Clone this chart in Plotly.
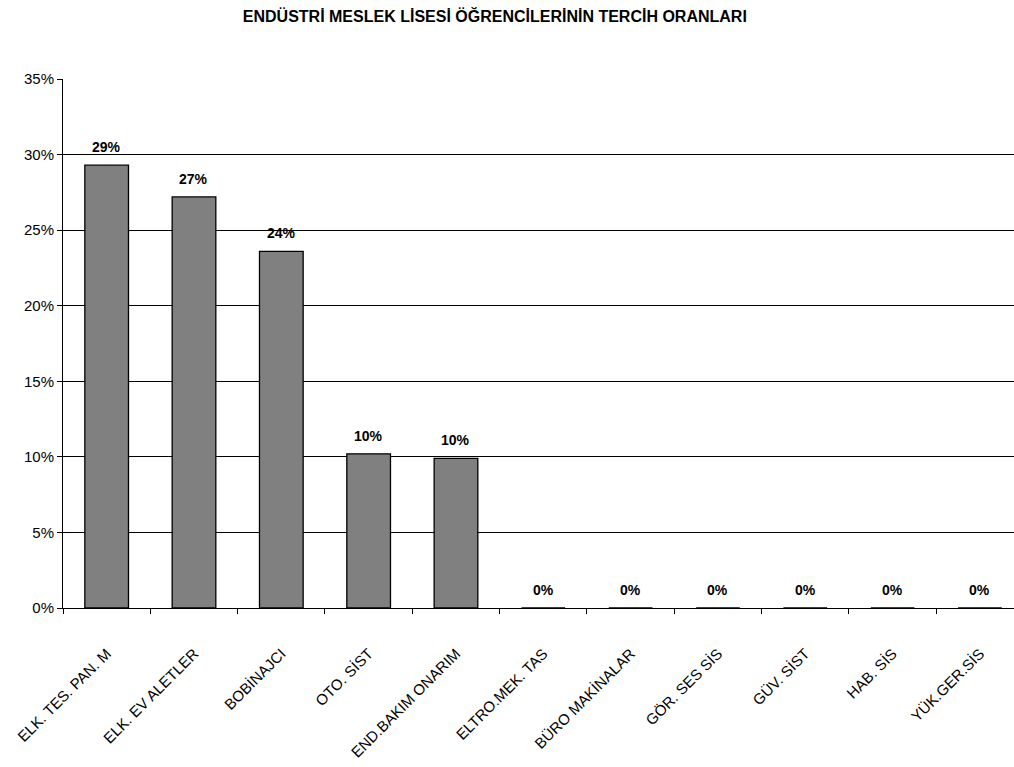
import plotly.graph_objects as go

# Preference shares of vocational high school students by department
categories = [
    "ELK. TES. PAN. M", "ELK. EV ALETLER", "BOBİNAJCI", "OTO. SİST",
    "END.BAKIM ONARIM", "ELTRO.MEK. TAS", "BÜRO MAKİNALAR", "GÖR. SES SİS",
    "GÜV. SİST", "HAB. SİS", "YÜK.GER.SİS",
]
shares = [0.293, 0.272, 0.236, 0.102, 0.099, 0.0, 0.0, 0.0, 0.0, 0.0, 0.0]
y_ticks = [0, 0.05, 0.10, 0.15, 0.20, 0.25, 0.30, 0.35]

FONT = "Liberation Sans, Arial, sans-serif"

fig = go.Figure()
fig.add_trace(go.Bar(
    x=categories,
    y=shares,
    marker=dict(color="#808080", line=dict(color="#000000", width=1.3)),
    hoverinfo="skip",
))

# Bold value labels above each bar
for cat, val in zip(categories, shares):
    fig.add_annotation(
        x=cat, y=val, text=f"<b>{val * 100:.0f}%</b>",
        showarrow=False, yanchor="bottom", yshift=8,
        font=dict(family=FONT, size=14, color="#000000"),
    )

fig.update_layout(
    width=1014, height=767,
    margin=dict(l=63, r=0, t=79, b=159, autoexpand=False),
    paper_bgcolor="#ffffff", plot_bgcolor="#ffffff",
    bargap=0.5,
    showlegend=False,
    title=dict(
        text="<b>ENDÜSTRİ MESLEK LİSESİ ÖĞRENCİLERİNİN TERCİH ORANLARI</b>",
        x=0.488, xanchor="center", y=0.978, yanchor="middle",
        font=dict(family=FONT, size=16, color="#000000"),
    ),
    xaxis=dict(
        range=[-0.5, 10.39], automargin=False,
        tickson="boundaries", ticks="outside", ticklen=5, tickcolor="#000000",
        showline=True, linecolor="#000000", linewidth=1,
        tickangle=-45, ticklabelstandoff=30,
        tickfont=dict(family=FONT, size=15, color="#000000"),
        showgrid=False, fixedrange=True,
    ),
    yaxis=dict(
        range=[0, 0.35], automargin=False,
        tickvals=y_ticks, tickformat=".0%",
        ticks="outside", ticklen=5, tickcolor="#000000",
        showline=True, linecolor="#000000", linewidth=1,
        showgrid=True, gridcolor="#000000", gridwidth=1,
        zeroline=False,
        tickfont=dict(family=FONT, size=15, color="#000000"),
        fixedrange=True,
    ),
)

fig.write_html("out.html")
